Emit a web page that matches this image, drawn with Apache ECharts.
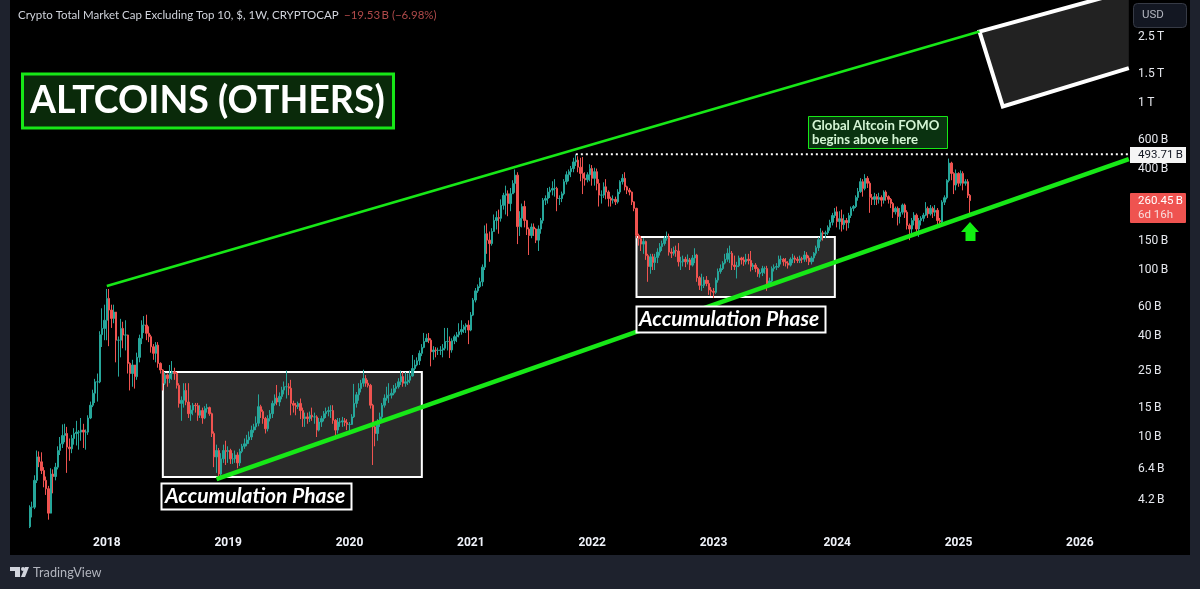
<!DOCTYPE html>
<html>
<head>
<meta charset="utf-8">
<title>ALTCOINS (OTHERS)</title>
<script src="https://cdn.jsdelivr.net/npm/echarts@6/dist/echarts.min.js"></script>
<style>
html, body { margin: 0; padding: 0; background: #1e222d; }
#main { width: 1200px; height: 589px; }
</style>
</head>
<body>
<div id="main"></div>
<script>
// weekly candles, in billions of USD, first one is the week of 2017-05-15
var firstOpen = 2.9;
var closes = [
  3.8,3.8,5.5,7.6,7.1,6.3,5.5,4.9,3.5,6.0,5.8,6.6,8.3,9.1,10.2,10.5,8.7,8.5,9.8,10.5,
  10.7,10.7,11,10.7,10.7,13,15.5,18.3,21.4,21.4,41,44.7,50,67.6,57.6,51.3,56,38,38,44.7,
  40.8,40.8,27.6,24,27,23,30,39,46.8,46.8,41.8,39.9,34.7,31.7,35.5,27.6,25.2,21,23.5,22.4,
  24,24.6,24,20.4,15.9,16.6,19,16.2,13.8,14.5,15.5,15.4,13.5,14.4,13,14.8,15,13.8,10.5,7.6,
  8.3,6.0,7.4,8.3,8.2,8.3,7.4,7.4,7.8,7,8.2,8.8,9.1,9.6,10,11,11.5,12.1,15.2,14.2,
  12.9,11.2,12.9,13.8,15.9,17.1,16.2,17.5,19.1,20,20,19.6,15.9,15.5,15.2,15.9,
  14.4,12.9,13.2,12.9,13.5,13.2,13.2,11,12.3,12.9,13.8,14.2,14.4,14.4,12.6,11,12.3,12.3,12.5,12.2,
  11.9,11.9,13.2,15.9,17.9,19.5,21,22.4,21,20.4,15.5,11.5,10.5,12.1,13.2,15.5,17.1,17.8,17.8,18.3,
  19.5,20,21.4,23,21,21.4,21.9,23.2,25.7,27,28.6,31.7,34.4,37.3,39,38,32.4,33.2,33,33,
  33.2,34,37.3,37.3,33.2,37.7,39.9,40.9,42.7,44,45.7,46.8,43.7,53.7,66.1,75,79.5,85,104,
  165,151,144,170,198,206,204,244,280,286,250,286,330,370,182,204,240,198,176,161,
  181,176,151,176,198,262,268,293,301,308,308,268,268,286,338,372,388,405,444,455,
  413,379,354,347,372,405,354,388,330,281,281,315,293,268,262,265,256,293,338,354,
  315,301,293,256,234,161,154,143,148,122,105,120,111,119,128,138,144,155,158,128,
  126,131,130,
  112,112,116,112,115,107,118,123,90,81,81,87,83,76,74.5,73.5,87,98,102,110,
  116,126,126,107,105,106,118,115,112,116,114,105,107,102,95,96.5,102,102,81,86,
  102,104,105,116,116,112,110,107,116,118,116,114,117,116,123,118,112,118,126,136,
  152,167,165,167,180,193,212,223,195,203,187,198,192,212,234,240,272,295,
  338,308,354,331,272,265,275,265,272,262,293,275,265,250,223,234,209,222,245,222,
  185,176,198,213,176,198,204,213,234,217,234,222,228,198,194,255,271,344,437,379,
  323,379,331,379,331,338,280,260.45
];
var highs = [
  3.9,4.1,5.9,8.3,8.2,8.1,6.6,5.8,5.1,6.5,6.4,7.0,8.8,10,11.9,12,11.5,9.8,10.3,11.3,
  12.5,11,13,12,11.1,13.5,16.3,19.2,22.3,24,43,59,62,77,77,62,62,52,40,51,
  49,50,41,28,29,27,32,41,50,53,54,46,41,36,37,37,28,25.5,24.5,24,
  27,28.5,26,24.5,21,17.5,21,21,21,15.5,16,16,16,15.5,15,15.3,15.8,15.2,14,10.8,
  9,8.6,8,9,9.5,8.8,8.5,8,8.3,8.1,8.5,9.1,9.8,10.3,10.8,11.7,12,13.3,18,15.6,
  14.6,13.2,13.5,14.5,16.5,18,20.5,18.5,20,21.5,25,21,22,16.5,16,16.3,
  17,15,14,14,14.2,15,14,13.5,13,13.4,14.3,15,15.2,15.5,15.5,12.8,13,13,13.2,13,
  12.8,12.3,13.7,20.8,18.6,21,22,25.3,23.5,22,20.8,15.8,12,12.8,14,16,18,20,21,19.5,
  20.5,21,22.5,25,24.5,24.5,24,25,31,29,30,33,36,42,41.5,42,39,35,34.5,34.3,
  35,36,45,45,40,39,41,42.5,48,50,47,48,50,56,68,78,82,90,108,
  185,190,170,178,215,225,230,265,290,320,300,310,345,400,385,225,250,260,200,180,
  190,190,178,185,205,270,280,310,315,340,350,315,280,295,350,390,400,420,470,493,
  480,470,475,385,385,430,425,410,405,350,300,335,350,300,275,280,275,305,345,375,
  385,320,310,295,258,236,165,160,155,150,125,125,125,125,135,145,150,160,170,165,
  135,138,140,
  145,120,122,120,124,118,123,135,125,92,95,91,92,87,79,78,90,102,108,113,
  125,135,140,130,122,112,122,120,120,125,125,130,110,110,104,101,106,105,106,90,
  105,108,110,122,122,118,118,113,119,125,122,120,122,120,130,128,122,121,128,140,
  157,178,172,172,185,200,220,235,240,225,230,215,205,220,240,245,280,310,
  355,350,375,365,340,285,290,285,290,280,300,300,280,270,255,240,240,235,250,250,
  228,190,205,222,218,205,210,220,255,240,245,240,245,235,205,262,280,350,465,445,
  385,400,385,395,390,350,350,285
];
var lows = [
  2.85,3.3,3.7,5.3,6.6,6.0,5.0,4.5,3.2,3.7,4.6,5.5,6.4,7.8,8.6,9.3,6.1,7.2,8,9,
  8.9,8.4,9.5,8.6,8.4,10.3,12.8,15.1,16,16.3,21,34.6,38,38,35,45,48,28,23,30,
  34,33,24,19,20,19.5,22,28,36,42,38,37,32,29,28,26,24,19,20.5,20,
  21,22,22,19.5,15,12.5,15,15.5,13,12.5,13.5,14,12.5,13,12,12.8,14,13.4,10,6.6,
  6.1,5.5,5.6,7,6.8,7,6.9,6.9,7,6.5,6.7,8,8.5,8.8,9.1,9.6,10.6,11,11.6,13,
  12,10.5,10.8,12.4,13,15.4,15.5,15.3,16.8,18,17,17.8,13.5,14,13.5,14.7,
  12.8,11.5,11.5,12,12.3,12.5,12,10,10.8,11.5,12.4,13,13.3,13,12,10,10.5,11.5,11.5,11.6,
  11,10.8,11.8,13,15,16.5,18.5,20,20,19.8,14.8,6.8,8.8,9.5,11.5,12.6,15,16.5,16,17,
  17.8,18.5,19.5,20.5,20,20,20.5,21,23,25,26.5,27,30.5,34,37,36.5,26.5,29,30,31,
  31,30,33,33,29.7,32,36,37,39.5,41,42,42,36,43,53,64,73,78,80,
  100,125,112,140,170,175,165,195,230,215,210,225,290,290,143,160,180,180,162,123,
  155,160,145,130,165,190,245,250,270,280,275,225,245,255,280,325,340,360,385,420,
  385,340,285,320,335,340,320,320,300,240,250,270,265,240,240,250,245,250,285,325,
  300,285,280,245,225,155,140,130,125,115,85,95,100,100,110,122,130,140,150,122,
  118,122,120,
  105,100,105,104,108,100,105,110,85,76,75,78,80,71,70,68,72,84,95,100,
  108,112,110,100,100,89,104,108,106,108,108,98,100,97,91,90,92,95,75,80,
  84,98,100,103,108,106,105,102,105,110,110,110,110,110,112,112,107,108,112,122,
  130,148,150,155,162,172,185,205,180,175,170,175,172,178,205,225,235,260,
  290,275,300,310,220,245,245,245,250,240,250,260,250,235,205,215,185,190,215,205,
  175,151,165,185,165,158,185,195,210,205,212,205,210,185,180,190,245,265,335,345,
  285,300,315,320,300,320,270,210
];
var priceTicks = [2500, 1500, 1000, 600, 400, 150, 100, 60, 40, 25, 15, 10, 6.4, 4.2];

// annotations drawn on the chart, [week, billions]
var channelTop = [['2018-01-01', 80.2], ['2025-03-03', 2680]];
var channelBottom = [['2018-11-26', 5.6], ['2026-05-25', 462]];
var fomoLevel = [['2021-11-08', 493.71], ['2026-05-25', 493.71]];
var box1 = [['2018-06-18', 24.5], ['2020-08-03', 5.76]];
var box2 = [['2022-05-09', 157.6], ['2023-12-25', 68.9]];
var targetBox = [['2025-03-03', 2680], ['2025-05-12', 953], ['2026-05-25', 1620], ['2026-05-25', 4710]];

var startWeek = Date.UTC(2017, 2, 20);
var weekCount = 480;
var firstCandle = 8;

var categories = [];
for (var i = 0; i < weekCount; i++) {
  categories.push(new Date(startWeek + i * 7 * 86400000).toISOString().slice(0, 10));
}

var candles = [];
for (var i = 0; i < weekCount; i++) {
  var k = i - firstCandle;
  if (k < 0 || k >= closes.length) {
    candles.push('-');
  } else {
    candles.push([k == 0 ? firstOpen : closes[k - 1], closes[k], lows[k], highs[k]]);
  }
}

// a week gets a year label when it holds the 1st of January
function yearOfWeek(value) {
  var end = new Date(Date.parse(value) + 6 * 86400000);
  return end.getUTCFullYear();
}
function isYearStart(index, value) {
  return yearOfWeek(value) != Number(value.slice(0, 4)) || value.slice(5) == '01-01';
}

var font = 'Lato, sans-serif';
var axisFont = 'Roboto, sans-serif';
var uiText = '#d1d4dc';
var green = '#17e817';

function label(x, y, text, fill, css, family) {
  return {
    type: 'text', z: 21, x: x, y: y,
    style: { text: text, fill: fill, font: css + ' ' + (family || font), verticalAlign: 'middle' }
  };
}

var myChart = echarts.init(document.getElementById('main'));

var option = {
  animation: false,
  backgroundColor: '#1e222d',
  grid: { left: 10, right: 70, top: 0, bottom: 61, show: false },
  xAxis: {
    type: 'category',
    data: categories,
    boundaryGap: true,
    axisLine: { show: false },
    axisTick: { show: false },
    splitLine: { show: false },
    axisLabel: {
      interval: isYearStart,
      formatter: function (value) { return String(yearOfWeek(value)); },
      color: '#f0f3fa',
      fontFamily: axisFont,
      fontWeight: 'bold',
      fontSize: 12,
      margin: 9
    }
  },
  yAxis: {
    type: 'log',
    position: 'right',
    min: 2.852,
    max: 4140,
    axisLine: { show: false },
    axisTick: { show: false },
    splitLine: { show: false },
    minorSplitLine: { show: false },
    axisLabel: {
      customValues: priceTicks,
      formatter: function (value) {
        return value >= 1000 ? value / 1000 + '\u2009T' : value + '\u2009B';
      },
      color: '#e6e8ee',
      fontFamily: axisFont,
      fontSize: 12,
      margin: 8,
      padding: [6, 0, 0, 0]
    }
  },
  series: [
    {
      name: 'boxes',
      type: 'line',
      data: [],
      z: 1,
      silent: true,
      markArea: {
        silent: true,
        itemStyle: { color: '#2a2a2a', borderColor: '#ffffff', borderWidth: 2 },
        data: [
          [{ xAxis: box1[0][0], yAxis: box1[0][1] }, { xAxis: box1[1][0], yAxis: box1[1][1] }],
          [{ xAxis: box2[0][0], yAxis: box2[0][1] }, { xAxis: box2[1][0], yAxis: box2[1][1] }]
        ]
      }
    },
    {
      name: 'target',
      type: 'custom',
      coordinateSystem: 'cartesian2d',
      clip: true,
      z: 1,
      silent: true,
      data: targetBox.map(function (p) { return [categories.indexOf(p[0]), p[1]]; }),
      renderItem: function (params, api) {
        if (params.dataIndex != 0) return null;
        var pts = targetBox.map(function (p) {
          return api.coord([categories.indexOf(p[0]), p[1]]);
        });
        return {
          type: 'group',
          children: [
            { type: 'polygon', shape: { points: pts }, style: { fill: '#222222' } },
            {
              type: 'polyline',
              shape: { points: [pts[3], pts[0], pts[1], pts[2]] },
              style: { fill: null, stroke: '#ffffff', lineWidth: 4 }
            }
          ]
        };
      }
    },
    {
      name: 'OTHERS',
      type: 'candlestick',
      data: candles,
      barWidth: 2,
      z: 3,
      itemStyle: {
        color: '#26a69a',
        color0: '#ef5350',
        borderColor: '#26a69a',
        borderColor0: '#ef5350',
        borderWidth: 1
      }
    },
    {
      name: 'channel top',
      type: 'line',
      data: channelTop,
      showSymbol: false,
      z: 4,
      lineStyle: { color: green, width: 2.5 }
    },
    {
      name: 'channel bottom',
      type: 'line',
      data: channelBottom,
      showSymbol: false,
      z: 4,
      lineStyle: { color: green, width: 4.5 }
    },
    {
      name: 'fomo level',
      type: 'line',
      data: fomoLevel,
      showSymbol: false,
      z: 4,
      lineStyle: { color: '#ffffff', width: 2, type: [2, 3] }
    }
  ],
  graphic: [
    // chart panel behind everything
    { type: 'rect', z: -10, shape: { x: 10, y: 0, width: 1180, height: 555 }, style: { fill: '#000000' } },

    // header
    label(18, 15, 'Crypto Total Market Cap Excluding Top 10, $, 1W, CRYPTOCAP', uiText, '11.5px'),
    label(344, 15, '\u221219.53\u2009B (\u22126.98%)', '#b04a4a', '11.5px'),

    // big title
    { type: 'rect', z: 20, shape: { x: 22.5, y: 74, width: 371, height: 54 }, style: { fill: '#0a2a0a', stroke: green, lineWidth: 3 } },
    label(30, 101, 'ALTCOINS (OTHERS)', '#ffffff', 'bold 37.5px'),

    // FOMO note
    { type: 'rect', z: 20, shape: { x: 808.5, y: 116.5, width: 139, height: 32 }, style: { fill: '#0a3210', stroke: green, lineWidth: 1 } },
    label(812, 126, 'Global Altcoin FOMO', '#d4f5d4', 'bold 13.2px'),
    label(812, 140, 'begins above here', '#d4f5d4', 'bold 13.2px'),

    // phase labels
    { type: 'rect', z: 20, shape: { x: 161.5, y: 483.5, width: 190, height: 26 }, style: { fill: '#000000', stroke: '#ffffff', lineWidth: 2 } },
    label(165, 496.5, 'Accumulation Phase', '#ffffff', 'italic bold 21px'),
    { type: 'rect', z: 20, shape: { x: 636.5, y: 306.5, width: 189, height: 26 }, style: { fill: '#000000', stroke: '#ffffff', lineWidth: 2 } },
    label(639, 319.5, 'Accumulation Phase', '#ffffff', 'italic bold 21px'),

    // up arrow
    { type: 'polygon', z: 20, shape: { points: [[970, 222], [979, 232], [975.5, 232], [975.5, 241], [965.5, 241], [965.5, 232], [961, 232]] }, style: { fill: '#12f012' } },

    // price axis extras
    { type: 'rect', z: 20, shape: { x: 1133.5, y: 3.5, width: 53, height: 24, r: 4 }, style: { fill: '#131722', stroke: '#363a45', lineWidth: 1 } },
    label(1142, 15.5, 'USD', '#b2b5be', '11.5px', axisFont),
    { type: 'rect', z: 20, shape: { x: 1130, y: 147, width: 56, height: 16 }, style: { fill: '#f5f5f5' } },
    label(1138, 155.5, '493.71\u2009B', '#131722', '11.5px', axisFont),
    { type: 'rect', z: 20, shape: { x: 1130, y: 193, width: 56, height: 30, r: 1 }, style: { fill: '#ef5350' } },
    label(1138, 201.5, '260.45\u2009B', '#ffffff', '11.5px', axisFont),
    label(1138, 215.5, '6d 16h', '#f8dcdc', '11.5px', axisFont),

    // footer logo
    { type: 'polygon', z: 20, shape: { points: [[10, 567], [20, 567], [20, 577], [15, 577], [15, 571], [10, 571]] }, style: { fill: uiText } },
    { type: 'circle', z: 20, shape: { cx: 23, cy: 569, r: 2 }, style: { fill: uiText } },
    { type: 'polygon', z: 20, shape: { points: [[25, 567], [29, 567], [25, 577], [21, 577]] }, style: { fill: uiText } },
    label(33, 572.5, 'TradingView', '#b2b5be', '12.7px')
  ]
};

myChart.setOption(option);

window.addEventListener('resize', function () {
  myChart.resize();
});
</script>
</body>
</html>
